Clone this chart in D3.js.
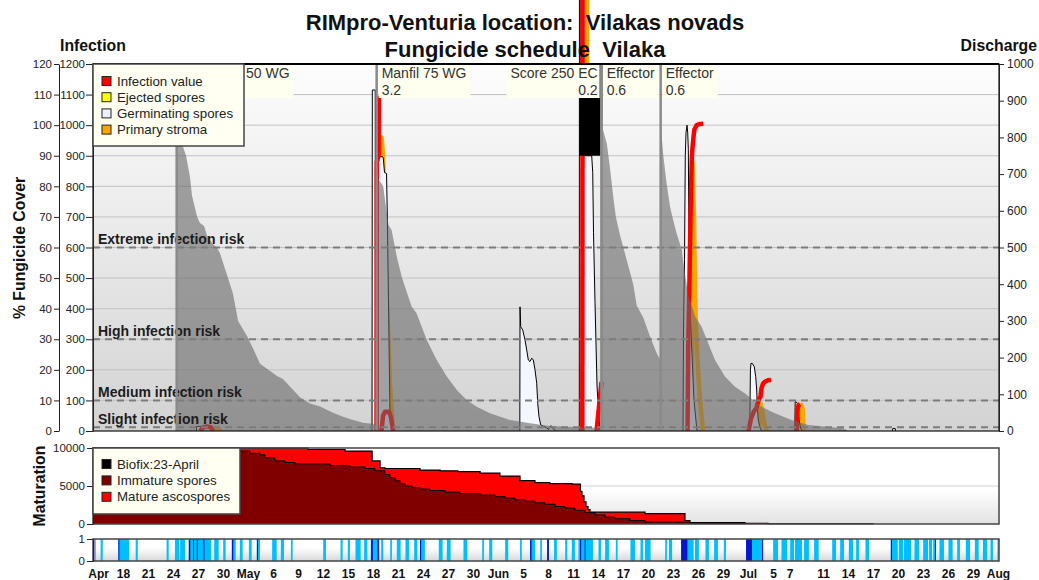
<!DOCTYPE html>
<html>
<head>
<meta charset="utf-8">
<script src="https://cdn.jsdelivr.net/npm/d3@7"></script>
<style>
  html, body { margin: 0; padding: 0; background: #fff; }
  svg { display: block; font-family: "Liberation Sans", Arial, Helvetica, sans-serif; }
</style>
</head>
<body>
<svg id="chart" width="1039" height="580"></svg>
<script>
// ---------------- season data ----------------
const YEAR = 2021;
const seasonRange = ["04-14 08:00", "08-01 01:30"];

// axis ticks
const coverTicks = [0, 10, 20, 30, 40, 50, 60, 70, 80, 90, 100, 110, 120];
const infectionTicks = [0, 100, 200, 300, 400, 500, 600, 700, 800, 900, 1000, 1100, 1200];
const dischargeTicks = [0, 100, 200, 300, 400, 500, 600, 700, 800, 900, 1000];
const maturationTicks = [0, 5000, 10000];
const wetnessTicks = [0, 1];
const dateTicks = ["04-15", "04-18", "04-21", "04-24", "04-27", "04-30", "05-03", "05-06", "05-09",
  "05-12", "05-15", "05-18", "05-21", "05-24", "05-27", "05-30", "06-02", "06-05", "06-08", "06-11",
  "06-14", "06-17", "06-20", "06-23", "06-26", "06-29", "07-02", "07-05", "07-07", "07-11", "07-14",
  "07-17", "07-20", "07-23", "07-26", "07-29", "08-01"];
const dateTickLabels = ["Apr", "18", "21", "24", "27", "30", "May", "6", "9", "12", "15", "18", "21",
  "24", "27", "30", "Jun", "5", "8", "11", "14", "17", "20", "23", "26", "29", "Jul", "5", "7", "11",
  "14", "17", "20", "23", "26", "29", "Aug"];

// infection risk thresholds (infection scale)
const riskLevels = [600, 300, 100, 12];
const riskNames = ["Extreme infection risk", "High infection risk", "Medium infection risk", "Slight infection risk"];

// fungicide applications
const sprayDates = ["04-24 09:00", "05-18 09:00", "06-14 09:00", "06-14 09:00", "06-21 11:00"];
const sprayProducts = ["50 WG", "Manfil 75 WG", "Score 250 EC", "Effector", "Effector"];
const sprayDoses = ["", "3.2", "0.2", "0.6", "0.6"];

// % fungicide cover
const fungicideCover = [
  ["04-14 08:00", 0], ["04-24 09:00", 0], ["04-24 09:00", 100], ["04-24 19:00", 97], ["04-25 03:00", 93],
  ["04-25 12:00", 90], ["04-25 23:30", 83], ["04-26 05:00", 77], ["04-26 20:00", 70], ["04-27 04:00", 68],
  ["04-27 16:00", 67], ["04-28 00:00", 64], ["04-28 18:00", 61], ["04-29 05:00", 60], ["04-29 14:00", 58],
  ["04-30 10:00", 51], ["05-01 03:00", 45], ["05-01 18:00", 36], ["05-02 20:00", 31], ["05-03 13:00", 27],
  ["05-04 09:00", 22], ["05-04 21:00", 21], ["05-06 10:00", 18], ["05-07 03:00", 17], ["05-08 08:00", 13.5],
  ["05-09 04:00", 11], ["05-10 09:00", 9], ["05-11 14:00", 8], ["05-13 03:00", 6], ["05-14 08:00", 4.7],
  ["05-15 13:00", 3.6], ["05-16 18:00", 2.7], ["05-18 09:00", 2.2],
  ["05-18 09:00", 84], ["05-18 16:00", 82], ["05-18 22:00", 81], ["05-19 04:00", 80], ["05-19 09:00", 75.5],
  ["05-19 19:00", 67.4], ["05-20 04:00", 65.7], ["05-20 19:00", 57], ["05-21 09:00", 50.5], ["05-21 19:00", 47],
  ["05-22 14:00", 40.6], ["05-23 04:00", 38.5], ["05-24 09:00", 29.8], ["05-25 14:00", 23.2], ["05-26 19:00", 17.8],
  ["05-28 00:00", 13.4], ["05-29 04:00", 10.1], ["05-30 09:00", 7.9], ["05-31 23:30", 5.8], ["06-03 09:00", 3.6],
  ["06-05 19:00", 2.5], ["06-08 04:00", 1.6], ["06-11 19:00", 1.2], ["06-14 09:00", 1],
  ["06-14 09:00", 100], ["06-14 14:00", 98], ["06-15 00:00", 94], ["06-15 09:00", 86], ["06-15 19:00", 76],
  ["06-16 02:00", 70], ["06-16 14:00", 64], ["06-17 09:00", 56], ["06-18 04:00", 48], ["06-18 14:00", 41],
  ["06-19 09:00", 37], ["06-20 04:00", 31], ["06-20 23:30", 25.4], ["06-21 11:00", 23],
  ["06-21 11:00", 100], ["06-21 19:00", 89.7], ["06-22 04:00", 81], ["06-22 14:00", 73.3], ["06-22 23:00", 69],
  ["06-23 09:00", 64.6], ["06-24 00:00", 59.2], ["06-24 04:00", 55], ["06-24 19:00", 44], ["06-25 09:00", 39.5],
  ["06-25 14:00", 37.4], ["06-26 09:00", 34.1], ["06-27 04:00", 28.7], ["06-27 23:30", 23.2], ["06-29 04:00", 17.8],
  ["06-30 09:00", 14.5], ["07-01 14:00", 12.3], ["07-03 14:00", 7.9], ["07-05 04:00", 5.8], ["07-07 04:00", 3.6],
  ["07-09 04:00", 2], ["07-11 09:00", 1.4], ["07-13 09:00", 0.9], ["07-13 23:00", 0], ["08-01 01:30", 0]
];

// germinating spores (infection scale), one array per event
const germinatingSpores = [
  [["04-26 18:00", 0], ["04-26 18:30", 15], ["04-27 07:30", 15], ["04-27 08:00", 0]],
  [["05-17 19:40", 0], ["05-17 20:30", 1115], ["05-18 04:50", 1115], ["05-18 05:45", 0]],
  [["05-18 12:25", 0], ["05-18 13:30", 897], ["05-19 01:55", 897], ["05-19 04:10", 892], ["05-19 07:40", 845],
   ["05-19 13:25", 842], ["05-19 15:45", 700], ["05-19 20:35", 300], ["05-19 23:30", 40], ["05-20 05:20", 0]],
  [["06-04 13:20", 0], ["06-04 13:55", 406], ["06-04 15:55", 341], ["06-04 21:40", 330], ["06-05 04:20", 298],
   ["06-05 09:10", 265], ["06-05 13:50", 232], ["06-05 18:40", 227], ["06-05 23:35", 238], ["06-06 04:15", 232],
   ["06-06 09:05", 200], ["06-06 14:00", 156], ["06-06 16:55", 90], ["06-06 20:35", 47], ["06-07 01:30", 20],
   ["06-07 18:50", 10], ["06-08 00:00", 5], ["06-08 04:20", 16], ["06-08 09:10", 16], ["06-08 13:50", 6],
   ["06-08 21:35", 0]],
  [["06-11 16:40", 0], ["06-11 17:00", 1500], ["06-11 21:00", 1500], ["06-11 21:30", 900], ["06-13 04:25", 900],
   ["06-13 07:20", 845], ["06-13 09:35", 650], ["06-13 13:55", 420], ["06-13 19:40", 150], ["06-14 00:00", 60],
   ["06-14 04:20", 0]],
  [["06-24 03:25", 0], ["06-24 04:50", 330], ["06-24 07:40", 560], ["06-24 10:00", 900], ["06-24 12:00", 975],
   ["06-24 14:55", 1000], ["06-24 16:55", 975], ["06-24 18:40", 920], ["06-24 20:35", 600], ["06-24 23:30", 400],
   ["06-25 05:15", 250], ["06-25 11:00", 100], ["06-25 19:40", 0]],
  [["07-02 03:40", 0], ["07-02 05:30", 200], ["07-02 07:10", 221], ["07-02 11:00", 221], ["07-02 16:40", 210],
   ["07-02 20:40", 178], ["07-02 23:35", 134], ["07-03 01:20", 80], ["07-03 04:10", 36], ["07-03 09:05", 10],
   ["07-03 14:55", 0]],
  [["07-07 13:20", 0], ["07-07 14:30", 96], ["07-07 15:55", 96], ["07-07 21:40", 90], ["07-08 01:25", 36],
   ["07-08 05:45", 10], ["07-08 10:05", 0]],
  [["07-19 06:40", 0], ["07-19 07:30", 8], ["07-19 14:30", 8], ["07-19 15:25", 0]]
];
// spans where the germination count stays saturated (drawn solid)
const germinationSaturated = [["06-11 16:40", "06-14 05:50"]];
const saturatedRange = [900, 1200];

// infection value (infection scale)
const infectionValue = [
  [["04-27 04:20", 0], ["04-27 13:00", 12], ["04-28 00:30", 15], ["04-28 12:00", 12], ["04-28 17:50", 0]],
  [["05-18 08:40", 0], ["05-18 09:20", 880], ["05-18 14:30", 900], ["05-18 15:15", 1090], ["05-18 21:00", 1090]],
  [["05-18 23:00", 0], ["05-19 03:25", 50], ["05-19 09:05", 63], ["05-19 20:35", 63], ["05-20 02:25", 45],
   ["05-20 08:10", 0]],
  [["06-12 01:20", 0], ["06-12 02:10", 1500]],
  [["06-13 18:15", 0], ["06-14 08:40", 160]],
  [["06-24 16:20", 0], ["06-24 18:40", 300], ["06-24 22:05", 500], ["06-25 01:00", 700], ["06-25 04:25", 880],
   ["06-25 06:10", 920], ["06-25 09:00", 955], ["06-25 11:55", 985], ["06-25 18:50", 1000], ["06-26 04:20", 1004],
   ["06-26 13:50", 1005]],
  [["07-02 00:00", 0], ["07-02 07:10", 40], ["07-02 15:50", 65], ["07-02 23:00", 75], ["07-03 01:55", 90],
   ["07-03 06:10", 105], ["07-03 10:35", 112], ["07-03 13:25", 140], ["07-03 17:50", 155], ["07-03 23:30", 161],
   ["07-04 08:10", 166], ["07-04 16:50", 167]],
  [["07-07 19:40", 0], ["07-07 21:05", 70], ["07-08 00:00", 85], ["07-08 04:20", 88]]
];

// ejected spores (infection scale)
const ejectedSpores = [
  [["06-12 14:00", 0], ["06-12 14:30", 1500]]
];

// primary stroma (infection scale)
const primaryStroma = [
  [["04-28 14:50", 0], ["04-28 20:40", 5], ["04-29 11:00", 5], ["04-29 16:50", 0]],
  [["05-18 22:30", 0], ["05-18 23:20", 960], ["05-19 03:25", 900], ["05-19 12:00", 500], ["05-19 23:30", 150],
   ["05-20 08:10", 0]],
  [["06-12 14:20", 0], ["06-12 14:55", 1500]],
  [["06-25 04:40", 0], ["06-25 06:40", 880], ["06-25 11:00", 700], ["06-25 13:55", 450], ["06-25 18:15", 300],
   ["06-25 22:35", 200], ["06-26 04:20", 100], ["06-26 13:00", 0]],
  [["07-03 07:40", 0], ["07-03 10:35", 90], ["07-03 14:55", 70], ["07-03 19:10", 40], ["07-03 23:30", 15],
   ["07-04 05:20", 0]],
  [["07-08 07:10", 0], ["07-08 08:05", 85], ["07-08 11:30", 75], ["07-08 15:50", 0]]
];

// ascospore maturation (stacked: immature + mature = total)
const sporesTotal = [
  ["04-14 08:00", 10000], ["05-10 03:00", 9800], ["05-14 14:00", 9600], ["05-17 20:00", 8300],
  ["05-18 19:00", 7400], ["05-19 09:00", 7300], ["05-23 14:00", 7100], ["05-26 00:00", 7000],
  ["05-28 03:00", 6900], ["05-30 19:00", 6700], ["06-02 04:00", 6300], ["06-04 14:00", 5700],
  ["06-06 09:00", 5450], ["06-08 04:00", 5300], ["06-10 20:00", 5250], ["06-11 20:00", 4300],
  ["06-12 00:30", 3700], ["06-12 06:15", 2900], ["06-12 12:00", 2300], ["06-12 17:50", 1900],
  ["06-12 23:30", 1550], ["06-19 14:00", 1370], ["06-24 09:00", 460], ["06-24 23:30", 200],
  ["07-01 14:00", 100], ["07-04 08:00", 30], ["07-16 23:00", 0]
];
const sporesImmature = [
  ["04-14 08:00", 10000], ["05-01 12:00", 9600], ["05-03 04:00", 9300], ["05-04 09:00", 9100],
  ["05-04 23:30", 8700], ["05-06 04:00", 8300], ["05-07 09:00", 8100], ["05-08 14:00", 7900],
  ["05-12 19:00", 7700], ["05-15 04:00", 7500], ["05-16 23:30", 7300], ["05-18 04:00", 7000],
  ["05-19 09:00", 6500], ["05-19 23:30", 6100], ["05-20 14:00", 5700], ["05-21 04:00", 5300],
  ["05-21 19:00", 5000], ["05-22 15:00", 4800], ["05-23 14:00", 4600], ["05-24 19:00", 4400],
  ["05-26 14:00", 4200], ["05-28 09:00", 4000], ["05-30 19:00", 3800], ["06-01 14:00", 3600],
  ["06-02 19:00", 3400], ["06-03 23:30", 3200], ["06-05 04:00", 3000], ["06-06 09:00", 2800],
  ["06-07 14:00", 2600], ["06-08 19:00", 2300], ["06-09 23:30", 2100], ["06-11 04:00", 1800],
  ["06-12 09:00", 1500], ["06-13 14:00", 1200], ["06-14 19:00", 900], ["06-15 23:30", 700],
  ["06-17 19:00", 450], ["06-19 14:00", 250], ["06-24 23:30", 100], ["07-01 14:00", 0]
];

// leaf wetness / rain hours
const missingHours = [["04-14 08", "04-14 16"]];
const wetHours = [
  ["04-15 06", "04-15 12"], ["04-17 09", "04-18 16"], ["04-19 11", "04-19 17"], ["04-23 04", "04-23 10"],
  ["04-24 04", "04-24 17"], ["04-24 19", "04-25 09"], ["04-25 20", "04-28 12"], ["04-28 21", "04-29 10"],
  ["04-29 23", "04-30 06"], ["05-01 00", "05-01 11"], ["05-01 23", "05-02 07"], ["05-03 01", "05-03 09"],
  ["05-04 00", "05-04 09"], ["05-05 20", "05-06 09"], ["05-06 21", "05-07 06"], ["05-08 02", "05-08 07"],
  ["05-11 23", "05-12 07"], ["05-14 01", "05-14 07"], ["05-14 22", "05-15 04"], ["05-15 20", "05-16 11"],
  ["05-16 21", "05-17 06"], ["05-17 16", "05-18 16"], ["05-18 22", "05-19 04"], ["05-20 00", "05-20 05"],
  ["05-20 19", "05-21 06"], ["05-21 20", "05-22 06"], ["05-22 21", "05-23 06"], ["05-23 14", "05-24 04"],
  ["05-25 20", "05-26 07"], ["05-26 19", "05-27 06"], ["05-28 19", "05-29 06"], ["05-31 01", "05-31 06"],
  ["05-31 21", "06-01 06"], ["06-02 19", "06-03 04"], ["06-04 14", "06-04 19"], ["06-05 19", "06-06 09"],
  ["06-07 00", "06-07 05"], ["06-07 20", "06-08 01"], ["06-08 16", "06-09 00"], ["06-10 00", "06-10 06"],
  ["06-10 19", "06-11 04"], ["06-11 14", "06-13 08"], ["06-14 00", "06-14 07"], ["06-14 19", "06-15 06"],
  ["06-16 02", "06-16 07"], ["06-17 20", "06-18 09"], ["06-19 01", "06-19 08"], ["06-19 14", "06-20 06"],
  ["06-22 00", "06-22 05"], ["06-22 11", "06-22 20"], ["06-23 22", "06-25 10"], ["06-25 14", "06-26 01"],
  ["06-26 20", "06-27 06"], ["06-27 21", "06-28 08"], ["06-29 01", "06-29 07"], ["07-01 17", "07-03 18"],
  ["07-04 23", "07-05 13"], ["07-05 23", "07-06 15"], ["07-07 00", "07-07 11"], ["07-07 14", "07-08 10"],
  ["07-08 16", "07-09 06"], ["07-09 21", "07-10 10"], ["07-12 01", "07-12 12"], ["07-13 00", "07-13 11"],
  ["07-14 01", "07-14 13"], ["07-14 22", "07-15 06"], ["07-16 01", "07-16 11"], ["07-19 02", "07-19 22"],
  ["07-20 01", "07-20 13"], ["07-20 16", "07-21 12"], ["07-21 22", "07-22 11"], ["07-22 23", "07-23 13"],
  ["07-23 16", "07-24 01"], ["07-24 04", "07-24 12"], ["07-24 22", "07-25 11"], ["07-26 00", "07-26 12"],
  ["07-27 01", "07-27 09"], ["07-28 02", "07-28 14"], ["07-29 04", "07-29 15"], ["07-30 03", "07-30 15"],
  ["07-31 01", "07-31 08"], ["07-31 21", "08-01 01"]
];
const rainHours = [
  ["04-17 09", "04-17 12"], ["04-25 20", "04-26 00"], ["04-26 08", "04-26 11"], ["04-26 19", "04-26 22"],
  ["04-27 14", "04-27 17"], ["05-01 00", "05-01 04"], ["05-04 00", "05-04 03"], ["05-17 17", "05-17 22"],
  ["05-18 11", "05-18 16"], ["05-23 14", "05-23 17"], ["06-05 19", "06-05 23"], ["06-07 20", "06-08 01"],
  ["06-11 19", "06-11 22"], ["06-12 08", "06-12 11"], ["06-23 22", "06-24 16"], ["07-01 17", "07-02 10"],
  ["07-03 15", "07-03 18"], ["07-19 02", "07-19 05"], ["07-24 09", "07-24 12"]
];

// legends
const sporeLegendNames = ["Infection value", "Ejected spores", "Germinating spores", "Primary stroma"];
const sporeLegendColors = ["#ff0000", "#ffff00", "#eef0ff", "#ffa500"];
const maturationLegendNames = ["Biofix:23-April", "Immature spores", "Mature ascospores"];
const maturationLegendColors = ["#000000", "#800000", "#ff0000"];

// ---------------- drawing ----------------
const parseTime = d3.utcParse("%Y-%m-%d %H:%M");
const t = s => parseTime(`${YEAR}-${s.length === 5 ? s + " 00:00" : (s.length === 8 ? s + ":00" : s)}`);

const svg = d3.select("#chart");
const plot = { left: 93, right: 999, top: 64, bottom: 431 };
const mat = { top: 448, bottom: 524 };
const strip = { top: 539, bottom: 561 };
const sporeLegendBox = { w: 151, h: 82 };

const x = d3.scaleUtc().domain(seasonRange.map(t)).range([plot.left, plot.right]);
const yPct = d3.scaleLinear().domain([0, 120]).range([plot.bottom, plot.top]);
const yInf = d3.scaleLinear().domain([0, 1200]).range([plot.bottom, plot.top]);
const yDis = d3.scaleLinear().domain([0, 1000]).range([plot.bottom, plot.top]);
const yMat = d3.scaleLinear().domain([0, 10000]).range([mat.bottom, mat.top]);
const yWet = d3.scaleLinear().domain([0, 1]).range([strip.bottom, strip.top]);

const defs = svg.append("defs");
function vGradient(id, stops) {
  const g = defs.append("linearGradient").attr("id", id).attr("x1", 0).attr("y1", 0).attr("x2", 0).attr("y2", 1);
  stops.forEach(([o, c]) => g.append("stop").attr("offset", o).attr("stop-color", c));
}
vGradient("bgMain", [[0, "#fdfdfd"], [1, "#d3d3d3"]]);
vGradient("bgMat", [[0, "#ffffff"], [0.55, "#ffffff"], [1, "#e2e2e2"]]);
vGradient("bgStrip", [[0, "#ffffff"], [0.4, "#ffffff"], [1, "#d8d8d8"]]);
defs.append("clipPath").attr("id", "plotClip").append("rect")
  .attr("x", plot.left).attr("y", -100).attr("width", plot.right - plot.left).attr("height", plot.bottom + 100);

// ---- main panel ----
svg.append("rect").attr("x", plot.left).attr("y", plot.top)
  .attr("width", plot.right - plot.left).attr("height", plot.bottom - plot.top).attr("fill", "url(#bgMain)");

svg.append("g").selectAll("line").data(infectionTicks.filter(v => v > 0 && v < 1200)).join("line")
  .attr("x1", plot.left).attr("x2", plot.right)
  .attr("y1", d => yInf(d)).attr("y2", d => yInf(d))
  .attr("stroke", "#c2c2c2").attr("stroke-width", 1);

const series = svg.append("g").attr("clip-path", "url(#plotClip)");
const lineInf = d3.line().x(d => x(t(d[0]))).y(d => yInf(d[1]));
const areaInf = d3.area().x(d => x(t(d[0]))).y0(yInf(0)).y1(d => yInf(d[1]));

function thickLines(events, color, width) {
  series.append("g").selectAll("path").data(events).join("path")
    .attr("d", lineInf).attr("fill", "none").attr("stroke", color)
    .attr("stroke-width", width).attr("stroke-linejoin", "round");
}
thickLines(ejectedSpores, "#ffff00", 3);
thickLines(primaryStroma, "#ffa500", 4.5);

const germ = series.append("g");
germ.selectAll("path.fill").data(germinatingSpores).join("path").attr("class", "fill")
  .attr("d", areaInf).attr("fill", "#f5f7ff");
germ.selectAll("path.edge").data(germinatingSpores).join("path").attr("class", "edge")
  .attr("d", lineInf).attr("fill", "none").attr("stroke", "#000").attr("stroke-width", 1);

thickLines(infectionValue, "#ff0000", 4.5);

series.append("g").selectAll("rect").data(germinationSaturated).join("rect")
  .attr("x", d => x(t(d[0]))).attr("width", d => x(t(d[1])) - x(t(d[0])))
  .attr("y", yInf(saturatedRange[1])).attr("height", yInf(saturatedRange[0]) - yInf(saturatedRange[1]))
  .attr("fill", "#000");

// fungicide cover (translucent, over the spore curves)
series.append("path").datum(fungicideCover)
  .attr("d", d3.area().x(d => x(t(d[0]))).y0(plot.bottom).y1(d => yPct(d[1])))
  .attr("fill", "rgba(104,104,104,0.6)");

// risk thresholds
const risk = svg.append("g");
risk.selectAll("line").data(riskLevels).join("line")
  .attr("x1", plot.left).attr("x2", plot.right)
  .attr("y1", d => yInf(d)).attr("y2", d => yInf(d))
  .attr("stroke", "#7c7c7c").attr("stroke-width", 2).attr("stroke-dasharray", "7,5");
risk.selectAll("text").data(riskLevels).join("text")
  .attr("x", plot.left + 5).attr("y", d => yInf(d) - 3.5)
  .attr("font-size", 14).attr("font-weight", "bold").attr("fill", "#1c1c1c")
  .text((d, i) => riskNames[i]);

// application lines
svg.append("g").selectAll("line").data(sprayDates).join("line")
  .attr("x1", d => x(t(d))).attr("x2", d => x(t(d)))
  .attr("y1", plot.top).attr("y2", plot.bottom)
  .attr("stroke", "#8a8a8a").attr("stroke-width", 2.5);

// application labels (text is kept clear of the legend box)
const legendRight = plot.left + sporeLegendBox.w;
const sprayGroup = svg.append("g").attr("font-size", 14).attr("fill", "#333");
sprayDates.forEach((d, i) => {
  const xi = x(t(d));
  const leftSide = i + 1 < sprayDates.length && sprayDates[i + 1] === d;
  const g = sprayGroup.append("g");
  const box = g.append("rect");
  const tx = leftSide ? xi - 4 : Math.max(xi + 5, legendRight + 2);
  const anchor = leftSide ? "end" : "start";
  const l1 = g.append("text").attr("x", tx).attr("y", plot.top + 13.5).attr("text-anchor", anchor).text(sprayProducts[i]);
  const l2 = g.append("text").attr("x", tx).attr("y", plot.top + 31).attr("text-anchor", anchor).text(sprayDoses[i]);
  const w = Math.max(l1.node().getComputedTextLength(), l2.node().getComputedTextLength());
  if (leftSide) {
    box.attr("x", tx - w - 4).attr("width", xi - 2 - (tx - w - 4));
  } else {
    box.attr("x", xi + 2).attr("width", tx + w + 4 - (xi + 2));
  }
  box.attr("y", plot.top).attr("height", 34).attr("fill", "#fffff0");
});

// frame
svg.append("rect").attr("x", plot.left).attr("y", plot.top)
  .attr("width", plot.right - plot.left).attr("height", plot.bottom - plot.top)
  .attr("fill", "none").attr("stroke", "#111").attr("stroke-width", 1.2);
svg.append("line").attr("x1", plot.left).attr("x2", plot.right).attr("y1", plot.top).attr("y2", plot.top)
  .attr("stroke", "#000").attr("stroke-width", 2);

const intFmt = d3.format("d");
function styleAxis(g, size) {
  g.attr("font-family", null).attr("font-size", size).attr("color", "#222");
  g.selectAll("text").attr("fill", "#222");
}
svg.append("g").attr("transform", `translate(59,0)`)
  .call(d3.axisLeft(yPct).tickValues(coverTicks).tickFormat(intFmt).tickSize(5).tickSizeOuter(0).tickPadding(2))
  .call(g => styleAxis(g, 11.5));
svg.append("g").attr("transform", `translate(${plot.left},0)`)
  .call(d3.axisLeft(yInf).tickValues(infectionTicks).tickFormat(intFmt).tickSize(7).tickSizeOuter(0).tickPadding(1))
  .call(g => styleAxis(g, 11.5));
svg.append("g").attr("transform", `translate(${plot.right},0)`)
  .call(d3.axisRight(yDis).tickValues(dischargeTicks).tickFormat(intFmt).tickSize(5).tickSizeOuter(0).tickPadding(3))
  .call(g => styleAxis(g, 12));

// ---- maturation panel ----
svg.append("rect").attr("x", plot.left).attr("y", mat.top)
  .attr("width", plot.right - plot.left).attr("height", mat.bottom - mat.top).attr("fill", "url(#bgMat)");
svg.append("line").attr("x1", plot.left).attr("x2", plot.right)
  .attr("y1", yMat(5000)).attr("y2", yMat(5000)).attr("stroke", "#cfcfcf");
const matArea = d3.area().curve(d3.curveStepAfter).x(d => x(t(d[0]))).y0(mat.bottom).y1(d => yMat(d[1]));
const matLine = d3.line().curve(d3.curveStepAfter).x(d => x(t(d[0]))).y(d => yMat(d[1]));
svg.append("path").datum(sporesTotal).attr("d", matArea).attr("fill", "#ff0000");
svg.append("path").datum(sporesImmature).attr("d", matArea).attr("fill", "#800000");
svg.append("path").datum(sporesImmature).attr("d", matLine).attr("fill", "none").attr("stroke", "#000").attr("stroke-width", 1);
svg.append("path").datum(sporesTotal).attr("d", matLine).attr("fill", "none").attr("stroke", "#000").attr("stroke-width", 1.2);
svg.append("rect").attr("x", plot.left).attr("y", mat.top)
  .attr("width", plot.right - plot.left).attr("height", mat.bottom - mat.top)
  .attr("fill", "none").attr("stroke", "#444").attr("stroke-width", 1.5);
svg.append("g").attr("transform", `translate(${plot.left},0)`)
  .call(d3.axisLeft(yMat).tickValues(maturationTicks).tickFormat(intFmt).tickSize(6).tickSizeOuter(0).tickPadding(2))
  .call(g => styleAxis(g, 11.5));

// ---- wetness strip ----
svg.append("rect").attr("x", plot.left).attr("y", strip.top)
  .attr("width", plot.right - plot.left).attr("height", strip.bottom - strip.top).attr("fill", "url(#bgStrip)");
function hourBars(spans, color) {
  svg.append("g").selectAll("rect").data(spans).join("rect")
    .attr("x", d => x(t(d[0])))
    .attr("width", d => Math.max(1, x(t(d[1])) - x(t(d[0]))))
    .attr("y", yWet(1)).attr("height", yWet(0) - yWet(1))
    .attr("fill", color);
}
hourBars(missingHours, "#8585e0");
hourBars(wetHours, "#00bfff");
hourBars(rainHours, "#0a14c8");
svg.append("rect").attr("x", plot.left).attr("y", strip.top)
  .attr("width", plot.right - plot.left).attr("height", strip.bottom - strip.top)
  .attr("fill", "none").attr("stroke", "#444").attr("stroke-width", 1.5);
svg.append("g").attr("transform", `translate(${plot.left},0)`)
  .call(d3.axisLeft(yWet).tickValues(wetnessTicks).tickFormat(intFmt).tickSize(6).tickSizeOuter(0).tickPadding(2))
  .call(g => styleAxis(g, 11.5));

// date labels
svg.append("g").selectAll("text").data(dateTicks).join("text")
  .attr("x", d => x(t(d))).attr("y", 577.5).attr("text-anchor", "middle")
  .attr("font-size", 12).attr("font-weight", "bold").attr("fill", "#111")
  .text((d, i) => dateTickLabels[i]);

// ---- legends ----
function legend(left, top, w, h, names, colors, rowStart, rowStep) {
  const g = svg.append("g");
  g.append("rect").attr("x", left).attr("y", top).attr("width", w).attr("height", h)
    .attr("fill", "#fffff2").attr("stroke", "#444").attr("stroke-width", 1.5);
  names.forEach((n, i) => {
    const cy = top + rowStart + i * rowStep;
    g.append("rect").attr("x", left + 9).attr("y", cy - 4.5).attr("width", 9).attr("height", 9)
      .attr("fill", colors[i]).attr("stroke", "#222").attr("stroke-width", 1);
    g.append("text").attr("x", left + 24).attr("y", cy + 4.5)
      .attr("font-size", 13.3).attr("fill", "#222").text(n);
  });
}
legend(plot.left, plot.top, sporeLegendBox.w, sporeLegendBox.h, sporeLegendNames, sporeLegendColors, 17, 16.2);
legend(plot.left, mat.top, 147, 66, maturationLegendNames, maturationLegendColors, 16, 16.4);

// ---- titles ----
const titles = svg.append("g").attr("font-weight", "bold").attr("fill", "#111");
titles.append("text").attr("x", 525).attr("y", 30).attr("text-anchor", "middle").attr("font-size", 22)
  .style("white-space", "pre").text("RIMpro-Venturia location:  Vilakas novads");
titles.append("text").attr("x", 525).attr("y", 57).attr("text-anchor", "middle").attr("font-size", 22)
  .style("white-space", "pre").text("Fungicide schedule  Vilaka");
titles.append("text").attr("x", 60).attr("y", 51).attr("font-size", 15.8).text("Infection");
titles.append("text").attr("x", 1037).attr("y", 51).attr("text-anchor", "end").attr("font-size", 15.8).text("Discharge");
titles.append("text").attr("transform", "translate(25,248) rotate(-90)").attr("text-anchor", "middle")
  .attr("font-size", 15.8).text("% Fungicide Cover");
titles.append("text").attr("transform", "translate(45,486) rotate(-90)").attr("text-anchor", "middle")
  .attr("font-size", 15.8).text("Maturation");
</script>
</body>
</html>
